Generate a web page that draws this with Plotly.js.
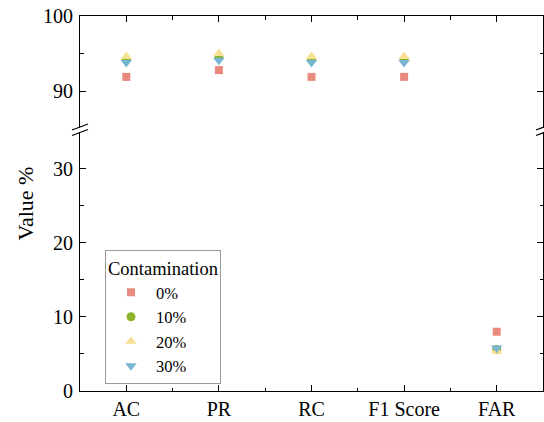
<!DOCTYPE html>
<html>
<head>
<meta charset="utf-8">
<script src="https://cdn.plot.ly/plotly-3.0.1.min.js"></script>
<style>
html,body{margin:0;padding:0;background:#fff;}
#chart{width:544px;height:422px;}
</style>
</head>
<body>
<div id="chart"></div>
<script>
// ---- data ----
const categories = ['AC', 'PR', 'RC', 'F1 Score', 'FAR'];
const seriesNames = ['0%', '10%', '20%', '30%'];
const contam0  = [91.9, 92.8, 91.9, 91.9, 8.0];
const contam10 = [94.2, 94.5, 94.2, 94.2, 5.6];
const contam20 = [94.6, 95.0, 94.6, 94.6, 5.4];
const contam30 = [93.8, 94.1, 93.8, 93.8, 5.8];
const upperTicks = [90, 100];
const lowerTicks = [0, 10, 20, 30];
const upperRange = [85.1, 100];
const lowerRange = [0, 34.95];

// ---- styles ----
const colors  = ['#E98A7E', '#8DB32B', '#F6E196', '#77B6D3'];
const symbols = ['square', 'circle', 'triangle-up', 'triangle-down'];
const sizes   = [8, 9, 10, 10];
const FONT = '"Liberation Serif", "Times New Roman", "DejaVu Serif", serif';

const idx = categories.map((c, i) => i);
const allSeries = [contam0, contam10, contam20, contam30];

const traces = [];
// lower panel (legend entries)
allSeries.forEach((vals, s) => {
  const xs = [], ys = [];
  vals.forEach((v, i) => { if (v <= lowerRange[1]) { xs.push(idx[i]); ys.push(v); } });
  traces.push({
    type: 'scatter', mode: 'markers', x: xs, y: ys, xaxis: 'x', yaxis: 'y',
    name: seriesNames[s], legendgroup: seriesNames[s], showlegend: true,
    marker: {symbol: symbols[s], size: sizes[s], color: colors[s], line: {width: 0}},
    cliponaxis: false
  });
});
// upper panel
allSeries.forEach((vals, s) => {
  const xs = [], ys = [];
  vals.forEach((v, i) => { if (v >= upperRange[0]) { xs.push(idx[i]); ys.push(v); } });
  traces.push({
    type: 'scatter', mode: 'markers', x: xs, y: ys, xaxis: 'x2', yaxis: 'y2',
    name: seriesNames[s], legendgroup: seriesNames[s], showlegend: false,
    marker: {symbol: symbols[s], size: sizes[s], color: colors[s], line: {width: 0}},
    cliponaxis: false
  });
});

const W = 463, H = 375, L = 80, T = 16;
const px2x = p => (p - L) / W;
const px2y = p => (T + H - p) / H;

const lowerTop = 132, upperBottom = 128;
const dLower = [0, px2y(lowerTop)];
const dUpper = [px2y(upperBottom), 1];

const axisCommon = {
  showline: true, linecolor: '#000', linewidth: 1,
  ticks: 'inside', ticklen: 6, tickwidth: 1, tickcolor: '#000',
  showgrid: false, zeroline: false,
  tickfont: {family: FONT, size: 20, color: '#000'}
};

function slash(x0p, y0p, x1p, y1p) {
  return {type: 'line', xref: 'paper', yref: 'paper',
    x0: px2x(x0p), y0: px2y(y0p), x1: px2x(x1p), y1: px2y(y1p),
    line: {color: '#000', width: 1.2}};
}

const layout = {
  width: 544, height: 422,
  margin: {l: L, r: 544 - L - W, t: T, b: 422 - T - H},
  paper_bgcolor: '#fff', plot_bgcolor: 'rgba(0,0,0,0)',
  showlegend: true,
  font: {family: FONT, color: '#000'},
  xaxis: Object.assign({}, axisCommon, {
    domain: [0, 1], anchor: 'y', range: [-0.5, 4.5],
    tickmode: 'array', tickvals: idx, ticktext: categories,
    minor: {ticks: 'inside', ticklen: 3.5, tickwidth: 1, tickcolor: '#000', tick0: 0.5, dtick: 1}
  }),
  xaxis2: Object.assign({}, axisCommon, {
    domain: [0, 1], anchor: 'y2', side: 'top', matches: 'x', range: [-0.5, 4.5],
    tickmode: 'array', tickvals: idx, showticklabels: false,
    minor: {ticks: 'inside', ticklen: 3.5, tickwidth: 1, tickcolor: '#000', tick0: 0.5, dtick: 1}
  }),
  yaxis: Object.assign({}, axisCommon, {
    domain: dLower, anchor: 'x', range: lowerRange, mirror: 'ticks',
    tickmode: 'array', tickvals: lowerTicks, ticklabelstandoff: 2,
    minor: {ticks: 'inside', ticklen: 3.5, tickwidth: 1, tickcolor: '#000', tick0: 0, dtick: 5}
  }),
  yaxis2: Object.assign({}, axisCommon, {
    domain: dUpper, anchor: 'x2', range: upperRange, mirror: 'ticks',
    tickmode: 'array', tickvals: upperTicks, ticklabelstandoff: 2,
    minor: {ticks: 'inside', ticklen: 3.5, tickwidth: 1, tickcolor: '#000', tick0: 85, dtick: 5}
  }),
  legend: {
    x: px2x(105), y: px2y(250), xanchor: 'left', yanchor: 'top',
    bgcolor: '#fff', bordercolor: '#999', borderwidth: 1,
    font: {family: FONT, size: 16.5, color: '#000'},
    title: {text: 'Contamination', font: {family: FONT, size: 18.5, color: '#000'}},
    tracegroupgap: 0, itemwidth: 40
  },
  annotations: [{
    text: 'Value %', xref: 'paper', yref: 'paper', x: px2x(25), y: 0.5,
    xanchor: 'center', yanchor: 'middle', textangle: -90, showarrow: false,
    font: {family: FONT, size: 22, color: '#000'}
  }],
  shapes: [
    slash(72, 130, 88, 124),
    slash(72, 135.5, 88, 129.5),
    slash(536, 130, 552, 124),
    slash(536, 135.5, 552, 129.5)
  ]
};

Plotly.newPlot('chart', traces, layout, {displayModeBar: false, staticPlot: true});
</script>
</body>
</html>
